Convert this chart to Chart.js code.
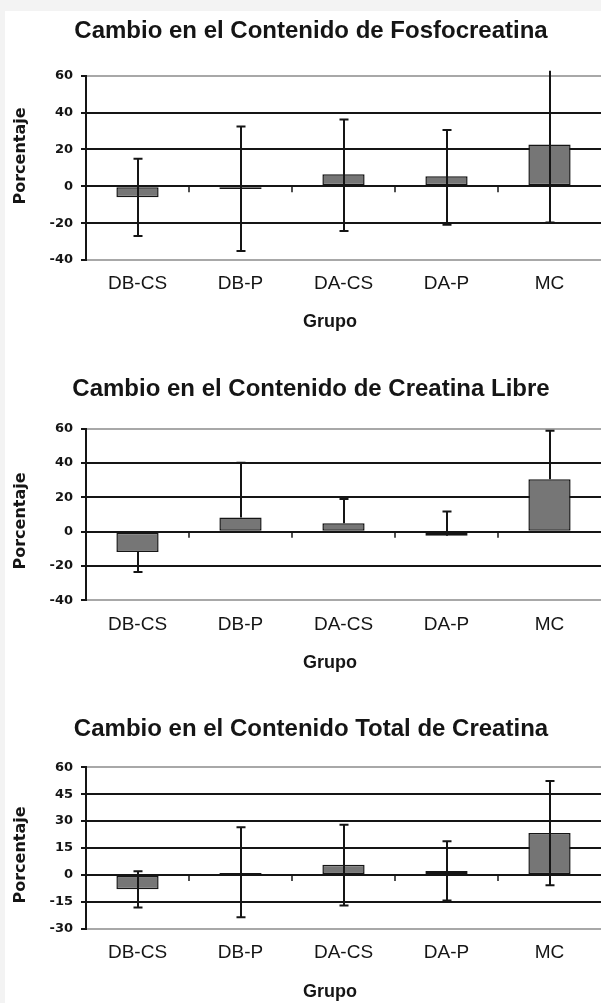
<!DOCTYPE html>
<html>
<head>
<meta charset="utf-8">
<script src="https://cdn.jsdelivr.net/npm/chart.js@4.4.1/dist/chart.umd.min.js"></script>
<style>
  html, body { margin: 0; padding: 0; width: 601px; height: 1003px; overflow: hidden; background: #f3f3f3; }
  #sheet { position: absolute; left: 5px; top: 11px; width: 596px; height: 992px; background: #ffffff; }
  .box { position: absolute; left: 5px; width: 612px; }
  .box canvas { display: block; }
</style>
</head>
<body>
<div id="sheet"></div>
<div class="box" style="top:11px;height:329px"><canvas id="c1" width="612" height="329"></canvas></div>
<div class="box" style="top:340px;height:340px"><canvas id="c2" width="612" height="340"></canvas></div>
<div class="box" style="top:680px;height:323px"><canvas id="c3" width="612" height="323"></canvas></div>
<script>
// ---------------- DATA ----------------
const categories = ['DB-CS', 'DB-P', 'DA-CS', 'DA-P', 'MC'];

const titleFosfo = 'Cambio en el Contenido de Fosfocreatina';
const titleLibre = 'Cambio en el Contenido de Creatina Libre';
const titleTotal = 'Cambio en el Contenido Total de Creatina';
const yAxisTitle = 'Porcentaje';
const xAxisTitle = 'Grupo';

const fosfoValues  = [-6.0, -1.5, 6.5, 5.5, 22.7];
const fosfoErrUp   = [21.0, 34.0, 29.7, 25.0, 40.0];
const fosfoErrDown = [21.0, 33.6, 30.7, 26.4, 42.3];
const fosfoTicks   = [-40, -20, 0, 20, 40, 60];

const libreValues  = [-11.8, 8.2, 4.9, -2.4, 30.6];
const libreErrUp   = [0, 32.0, 14.1, 14.2, 28.2];
const libreErrDown = [11.7, 0, 0, 0, 0];
const libreTicks   = [-40, -20, 0, 20, 40, 60];

const totalValues  = [-8.0, 1.1, 5.6, 2.2, 23.4];
const totalErrUp   = [10.0, 25.5, 22.3, 16.6, 29.0];
const totalErrDown = [10.2, 24.7, 22.7, 16.5, 29.2];
const totalTicks   = [-30, -15, 0, 15, 30, 45, 60];

// ---------------- STYLE ----------------
const INK = '#151515';
const BAR_FILL = '#767676';
const BORDER_GRAY = '#a8a8a8';

// error bars drawn from dataset.errUp / dataset.errDown
const errorBarPlugin = {
  id: 'errorBars',
  afterDatasetsDraw(chart) {
    const ctx = chart.ctx;
    const ys = chart.scales.y;
    const ds = chart.data.datasets[0];
    const meta = chart.getDatasetMeta(0);
    const cap = 4.5;
    ctx.save();
    ctx.strokeStyle = INK;
    ctx.lineWidth = 2;
    meta.data.forEach((bar, i) => {
      const v = ds.data[i];
      const up = ds.errUp[i] || 0;
      const down = ds.errDown[i] || 0;
      if (!up && !down) return;
      const x = Math.round(bar.x);
      const yTop = ys.getPixelForValue(v + up);
      const yBot = ys.getPixelForValue(v - down);
      ctx.beginPath();
      ctx.moveTo(x, yTop);
      ctx.lineTo(x, yBot);
      if (up && v + up <= ys.max) { ctx.moveTo(x - cap, yTop); ctx.lineTo(x + cap, yTop); }
      if (down && v - down >= ys.min) { ctx.moveTo(x - cap, yBot); ctx.lineTo(x + cap, yBot); }
      ctx.stroke();
    });
    ctx.restore();
  }
};

// small category-boundary tick marks hanging below the zero line
const zeroTicksPlugin = {
  id: 'zeroTicks',
  afterDraw(chart) {
    const ctx = chart.ctx;
    const xs = chart.scales.x, ys = chart.scales.y;
    const y0 = ys.getPixelForValue(0);
    ctx.save();
    ctx.strokeStyle = INK;
    ctx.lineWidth = 1.5;
    for (let i = 0; i < categories.length - 1; i++) {
      const x = Math.round((xs.getPixelForValue(i) + xs.getPixelForValue(i + 1)) / 2);
      ctx.beginPath();
      ctx.moveTo(x, y0);
      ctx.lineTo(x, y0 + 6);
      ctx.stroke();
    }
    ctx.restore();
  }
};

// axis titles
const axisTitlePlugin = {
  id: 'axisTitles',
  afterDraw(chart, args, o) {
    const ctx = chart.ctx;
    ctx.save();
    ctx.fillStyle = INK;
    ctx.textAlign = 'center';
    ctx.textBaseline = 'middle';
    ctx.font = 'bold 16px "DejaVu Sans", sans-serif';
    ctx.translate(o.yX, o.yY);
    ctx.rotate(-Math.PI / 2);
    ctx.fillText(yAxisTitle, 0, 0);
    ctx.restore();
    ctx.save();
    ctx.fillStyle = INK;
    ctx.textAlign = 'center';
    ctx.textBaseline = 'middle';
    ctx.font = 'bold 18px "Liberation Sans", Arial, sans-serif';
    ctx.fillText(xAxisTitle, o.xX, o.xY);
    ctx.restore();
  }
};

function makeChart(id, title, values, errUp, errDown, ticks, lay) {
  const tMin = ticks[0], tMax = ticks[ticks.length - 1];
  return new Chart(document.getElementById(id), {
    type: 'bar',
    data: {
      labels: categories,
      datasets: [{
        data: values,
        errUp: errUp,
        errDown: errDown,
        backgroundColor: BAR_FILL,
        borderColor: INK,
        borderWidth: 1.5,
        borderSkipped: false,
        categoryPercentage: 1.0,
        barPercentage: 0.41
      }]
    },
    plugins: [errorBarPlugin, zeroTicksPlugin, axisTitlePlugin],
    options: {
      responsive: false,
      animation: false,
      devicePixelRatio: 1,
      layout: { padding: { left: 16, top: 0, bottom: 0, right: 16 } },
      plugins: {
        legend: { display: false },
        tooltip: { enabled: false },
        title: {
          display: true,
          text: title,
          color: INK,
          font: { family: '"Liberation Sans", Arial, sans-serif', size: 24, weight: 'bold' },
          padding: { top: lay.titleTop, bottom: lay.titleBottom }
        },
        axisTitles: lay.axis
      },
      scales: {
        x: {
          type: 'category',
          grid: { display: false, drawTicks: false },
          border: { display: false },
          ticks: {
            color: INK,
            padding: lay.labelPad,
            font: { family: '"Liberation Sans", Arial, sans-serif', size: 19 }
          },
          afterFit(s) { s.height = lay.xHeight; }
        },
        y: {
          min: tMin,
          max: tMax,
          afterBuildTicks(s) { s.ticks = ticks.map(v => ({ value: v })); },
          grid: {
            color: c => (c.tick && (c.tick.value === tMin || c.tick.value === tMax)) ? BORDER_GRAY : INK,
            lineWidth: 2,
            tickColor: INK,
            tickLength: 5,
            tickWidth: 2
          },
          border: { color: INK, width: 2 },
          ticks: {
            color: INK,
            padding: 8,
            font: { family: '"DejaVu Sans", sans-serif', size: 13, weight: 'bold' }
          },
          afterFit(s) { s.width = 65; }
        }
      }
    }
  });
}

makeChart('c1', titleFosfo, fosfoValues, fosfoErrUp, fosfoErrDown, fosfoTicks, {
  titleTop: 5.8, titleBottom: 30.1, xHeight: 80, labelPad: 12,
  axis: { yX: 16, yY: 145, xX: 325, xY: 311 }
});
makeChart('c2', titleLibre, libreValues, libreErrUp, libreErrDown, libreTicks, {
  titleTop: 34.8, titleBottom: 25.1, xHeight: 79.7, labelPad: 13,
  axis: { yX: 16, yY: 181, xX: 325, xY: 323 }
});
makeChart('c3', titleTotal, totalValues, totalErrUp, totalErrDown, totalTicks, {
  titleTop: 35.2, titleBottom: 23.3, xHeight: 74.3, labelPad: 13,
  axis: { yX: 16, yY: 175, xX: 325, xY: 311.7 }
});
</script>
</body>
</html>
